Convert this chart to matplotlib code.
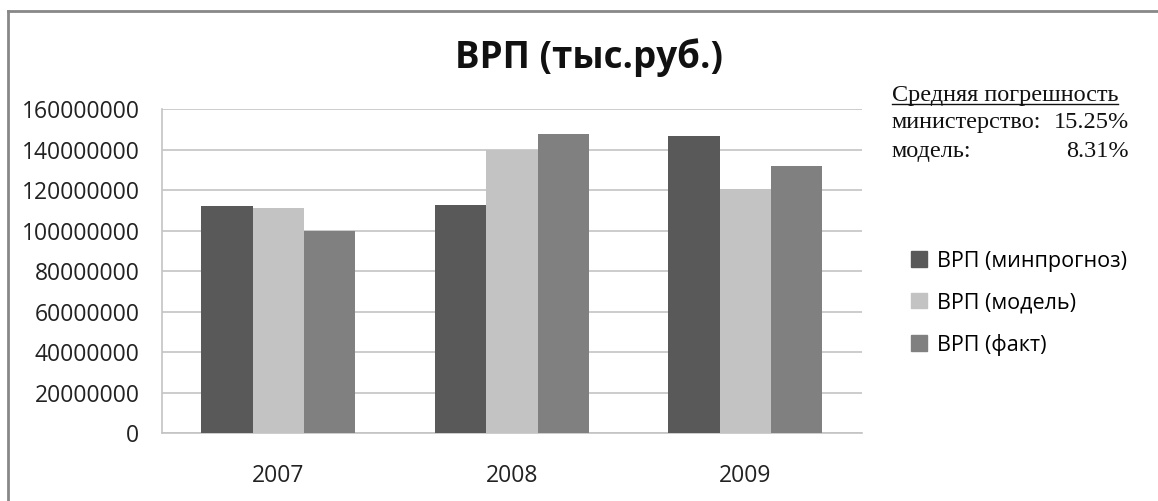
import numpy as np
import matplotlib.pyplot as plt
from matplotlib.lines import Line2D
from matplotlib.patches import Patch

plt.rcParams['font.family'] = ['Open Sans', 'DejaVu Sans']

# данные ВРП по годам
years = ['2007', '2008', '2009']
vrp_minprognoz = [112000000, 112500000, 146500000]
vrp_model = [111200000, 140000000, 120300000]
vrp_fact = [100000000, 147500000, 132000000]

series_names = ['ВРП (минпрогноз)', 'ВРП (модель)', 'ВРП (факт)']
colors = ['#595959', '#c3c3c3', '#808080']

fig = plt.figure(figsize=(11.58, 5.01), dpi=100)
ax = fig.add_axes([0.1396, 0.1351, 0.6048, 0.6473])

x = np.arange(len(years))
w = 0.22
for i, (vals, name, c) in enumerate(zip([vrp_minprognoz, vrp_model, vrp_fact], series_names, colors)):
    ax.bar(x + (i - 1) * w, vals, width=w, color=c, label=name, zorder=3)

ax.set_xlim(-0.5, 2.5)
ax.set_ylim(0, 160000000)
ax.set_yticks(np.arange(0, 160000001, 20000000))
ax.set_yticklabels([str(v) for v in range(0, 160000001, 20000000)])
ax.set_xticks(x)
ax.set_xticklabels(years)
ax.tick_params(axis='y', length=0, pad=16, labelsize=16.5, colors='#222222')
ax.tick_params(axis='x', length=0, pad=22, labelsize=16.5, colors='#222222')
ax.yaxis.grid(True, color='#c4c4c4', linewidth=1.2, zorder=0)
for s in ['top', 'right']:
    ax.spines[s].set_visible(False)
for s in ['left', 'bottom']:
    ax.spines[s].set_color('#c4c4c4')
    ax.spines[s].set_linewidth(1.2)

fig.text(0.509, 0.885, 'ВРП (тыс.руб.)', ha='center', va='center',
         fontsize=26.5, fontweight='bold', color='#111111')

# легенда справа
handles = [Patch(color=c) for c in colors]
fig.legend(handles, series_names, loc='center left', bbox_to_anchor=(0.77, 0.395),
           frameon=False, fontsize=15.5, handlelength=0.75, handleheight=0.75,
           handletextpad=0.45, labelspacing=0.95)

# блок со средней погрешностью
serif = 'Liberation Serif'
fs = 17.5
t = fig.text(0.7702, 0.81, 'Средняя погрешность', family=serif, fontsize=fs,
             ha='left', va='center', color='#111111')
fig.text(0.7702, 0.756, 'министерство:', family=serif, fontsize=fs,
         ha='left', va='center', color='#111111')
fig.text(0.975, 0.756, '15.25%', family=serif, fontsize=fs,
         ha='right', va='center', color='#111111')
fig.text(0.7702, 0.697, 'модель:', family=serif, fontsize=fs,
         ha='left', va='center', color='#111111')
fig.text(0.975, 0.697, '8.31%', family=serif, fontsize=fs,
         ha='right', va='center', color='#111111')

# подчёркивание заголовка блока
r = fig.canvas.get_renderer()
bb = t.get_window_extent(r).transformed(fig.transFigure.inverted())
fig.add_artist(Line2D([bb.x0, bb.x1], [bb.y0 + 0.004, bb.y0 + 0.004],
                      transform=fig.transFigure, color='#111111', linewidth=1))

# рамка диаграммы (видны только верхний и левый края)
fig.add_artist(Line2D([0.007, 1.0], [0.978, 0.978], transform=fig.transFigure,
                      color='#888888', linewidth=2))
fig.add_artist(Line2D([0.007, 0.007], [0.0, 0.978], transform=fig.transFigure,
                      color='#888888', linewidth=2))

fig.savefig('out.png', dpi=100)
